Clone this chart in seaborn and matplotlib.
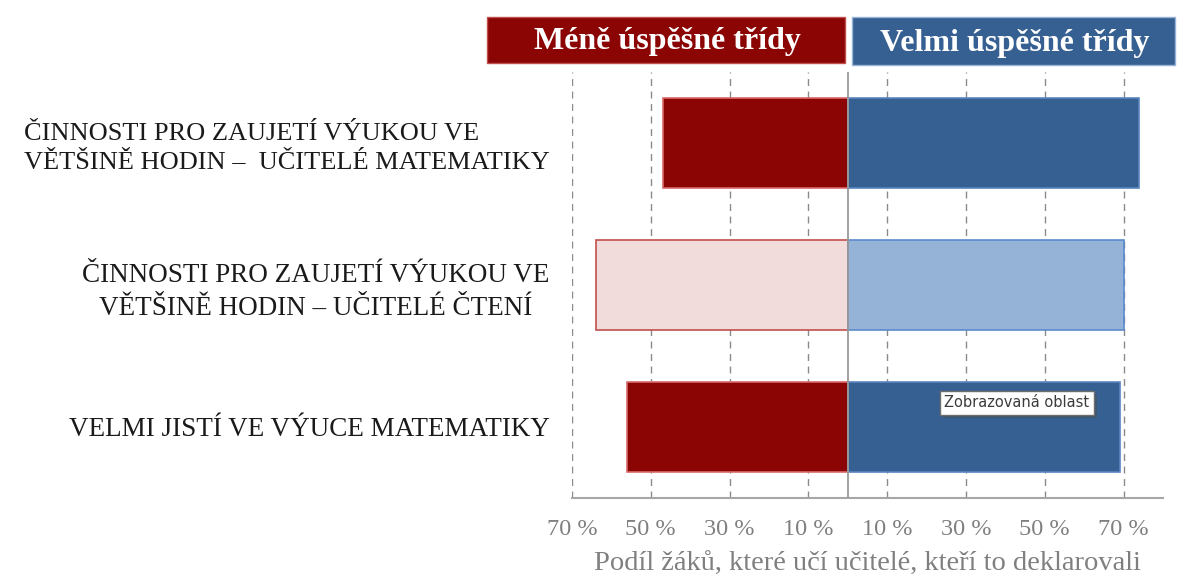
import pandas as pd
import matplotlib.pyplot as plt
import seaborn as sns
from matplotlib.patches import Rectangle
from matplotlib import patheffects as pe

# ==========================================
# 0. DATA
# ==========================================
labels = [
    'ČINNOSTI PRO ZAUJETÍ VÝUKOU VE\nVĚTŠINĚ HODIN –  UČITELÉ MATEMATIKY',
    'ČINNOSTI PRO ZAUJETÍ VÝUKOU VE\nVĚTŠINĚ HODIN – UČITELÉ ČTENÍ',
    'VELMI JISTÍ VE VÝUCE MATEMATIKY',
]
less_successful = [47, 64, 56]   # Méně úspěšné třídy (%)
very_successful = [74, 70, 69]   # Velmi úspěšné třídy (%)
tick_values = [-70, -50, -30, -10, 10, 30, 50, 70]
tick_labels = ['70 %', '50 %', '30 %', '10 %', '10 %', '30 %', '50 %', '70 %']

df = pd.DataFrame({'label': labels,
                   'less': [-v for v in less_successful],
                   'very': very_successful})

red_fill = ['#8B0505', '#F2DCDB', '#8B0505']
red_edge = ['#D9696A', '#C0504D', '#D9696A']
blue_fill = ['#366092', '#95B3D7', '#366092']
blue_edge = ['#5A86C0', '#5B8BCB', '#5A86C0']

sns.set_theme(style='white')
plt.rcParams['font.family'] = ['Liberation Serif', 'DejaVu Serif']

# ==========================================
# 1. CHART
# ==========================================
fig = plt.figure(figsize=(12.03, 5.81), dpi=100)
ax = fig.add_axes([572 / 1203, 1 - 498 / 581, (1163 - 572) / 1203, (498 - 72) / 581])

sns.barplot(data=df, x='less', y='label', hue='label', palette=red_fill,
            orient='h', width=0.63, saturation=1, legend=False, ax=ax)
sns.barplot(data=df, x='very', y='label', hue='label', palette=blue_fill,
            orient='h', width=0.63, saturation=1, legend=False, ax=ax)

edges = red_edge + blue_edge
for p, ec in zip(ax.patches, edges):
    p.set_edgecolor(ec)
    p.set_linewidth(1.2)

ax.set_xlim(-70, 80)
ax.set_ylim(2.5, -0.5)

# gridlines
for v in tick_values:
    ax.axvline(v, color='#8a8a8a', lw=1, ls=(0, (5, 4)), zorder=0)
ax.axvline(0, color='#9a9a9a', lw=1.3, zorder=3)

for s in ['top', 'right', 'left']:
    ax.spines[s].set_visible(False)
ax.spines['bottom'].set_color('#a6a6a6')
ax.spines['bottom'].set_linewidth(1.5)

ax.set_xticks(tick_values)
ax.set_xticklabels(tick_labels, color='#7f7f7f', fontsize=17.5)
ax.tick_params(axis='x', length=0, pad=15)
ax.tick_params(axis='y', length=0, pad=16)
ax.set_yticks(range(len(labels)))
ax.set_yticklabels(labels, fontsize=19.5, color='#1a1a1a')
for i, t in enumerate(ax.get_yticklabels()):
    t.set_linespacing(1.4)
    t.set_multialignment('left' if i == 0 else 'center')
    if i == 0:
        t.set_fontsize(19)
ax.set_ylabel('')
ax.set_xlabel('Podíl žáků, které učí učitelé, kteří to deklarovali',
              color='#7f7f7f', fontsize=20.5, labelpad=9)

# header boxes
fig.patches.append(Rectangle((487 / 1203, 1 - 63 / 581), (845 - 487) / 1203, 46 / 581,
                             transform=fig.transFigure, facecolor='#8B0505',
                             edgecolor='#C0504D', lw=1))
fig.patches.append(Rectangle((852 / 1203, 1 - 65 / 581), (1175 - 852) / 1203, 48 / 581,
                             transform=fig.transFigure, facecolor='#376092',
                             edgecolor='#95B3D7', lw=1))
fig.text(667 / 1203, 1 - 42 / 581, 'Méně úspěšné třídy', color='white',
         fontsize=23, fontweight='bold', ha='center', va='center')
fig.text(1015 / 1203, 1 - 43 / 581, 'Velmi úspěšné třídy', color='white',
         fontsize=23, fontweight='bold', ha='center', va='center')

# tooltip from the screenshot
tip = ax.text(24.5, 1.83, 'Zobrazovaná oblast', fontsize=10.5, color='#3c3c3c',
              family=['DejaVu Sans'], ha='left', va='center', zorder=5,
              bbox=dict(boxstyle='square,pad=0.3', facecolor='white',
                        edgecolor='#6e6e6e', lw=1))
tip.get_bbox_patch().set_path_effects([pe.SimplePatchShadow(offset=(2, -2), alpha=0.5),
                                       pe.Normal()])

plt.savefig('out.png', dpi=100)
